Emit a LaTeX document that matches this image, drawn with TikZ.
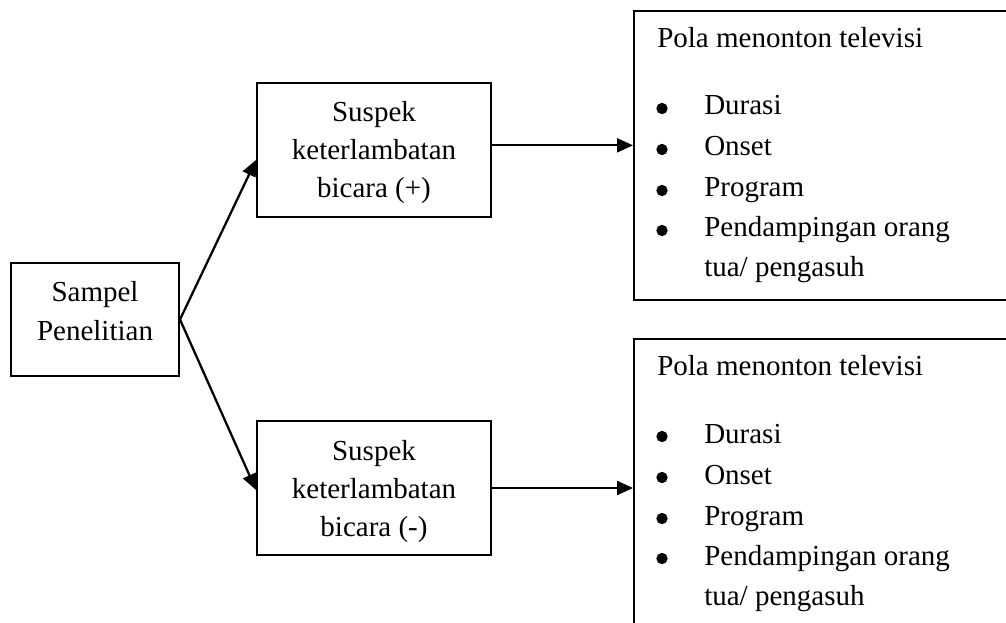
\documentclass[tikz,border=0pt]{standalone}
\usepackage{fontspec}
\setmainfont{Liberation Serif}
\usetikzlibrary{arrows.meta}
\begin{document}
\begin{tikzpicture}[x=0.75pt,y=-0.75pt,
  box/.style={draw, line width=1.5pt, inner sep=0pt},
  txt/.style={anchor=base, inner sep=0pt, font=\fontsize{21.75}{26}\selectfont},
  ltxt/.style={txt, anchor=base west},
  arr/.style={line width=1.7pt, -{Triangle[length=12pt,width=10.5pt]}},
  bul/.style={circle, fill, inner sep=0pt, minimum size=8.5pt}]
\useasboundingbox (0,0) rectangle (1006,623);
% boxes
\node[box, minimum width=126pt, minimum height=84.75pt] (samp) at (95,319.5) {};
\node[box, minimum width=175.5pt, minimum height=100.5pt] (pos) at (374,150) {};
\node[box, minimum width=175.5pt, minimum height=100.5pt] (neg) at (374,488) {};
\node[box, minimum width=283.5pt, minimum height=216.75pt] (r1) at (823,155.5) {};
\node[box, minimum width=283.5pt, minimum height=219.75pt] (r2) at (823,485.5) {};
% box texts
\node[txt] (s1) at (95,302) {Sampel};
\node[txt] (s2) at (95,340) {Penelitian};
\node[txt] (p1) at (374,122) {Suspek};
\node[txt] (p2) at (374,160) {keterlambatan};
\node[txt] (p3) at (374,198) {bicara (+)};
\node[txt] (n1) at (374,460) {Suspek};
\node[txt] (n2) at (374,498) {keterlambatan};
\node[txt] (n3) at (374,536) {bicara (-)};
% right box 1
\node[ltxt] (a0) at (657,48) {Pola menonton televisi};
\node[bul] (ab1) at (662,108.5) {};
\node[ltxt] (a1) at (704,115) {Durasi};
\node[bul] (ab2) at (662,149.5) {};
\node[ltxt] (a2) at (704,156) {Onset};
\node[bul] (ab3) at (662,190.5) {};
\node[ltxt] (a3) at (704,197) {Program};
\node[bul] (ab4) at (662,230.5) {};
\node[ltxt] (a4) at (704,237) {Pendampingan orang};
\node[ltxt] (a5) at (704,277) {tua/ pengasuh};
% right box 2
\node[ltxt] (b0) at (657,376) {Pola menonton televisi};
\node[bul] (bb1) at (662,436.5) {};
\node[ltxt] (b1) at (704,443) {Durasi};
\node[bul] (bb2) at (662,477.5) {};
\node[ltxt] (b2) at (704,484) {Onset};
\node[bul] (bb3) at (662,518.5) {};
\node[ltxt] (b3) at (704,525) {Program};
\node[bul] (bb4) at (662,558.5) {};
\node[ltxt] (b4) at (704,565) {Pendampingan orang};
\node[ltxt] (b5) at (704,605) {tua/ pengasuh};
% connectors
\draw[arr] (samp.east) -- ([yshift=-7.5pt]pos.west);
\draw[arr] (samp.east) -- ([yshift=-1.5pt]neg.west);
\draw[arr] ([yshift=3.5pt]pos.east) -- ([yshift=3.5pt]pos.east -| r1.west);
\draw[arr] (neg.east) -- (neg.east -| r2.west);
\end{tikzpicture}
\end{document}
